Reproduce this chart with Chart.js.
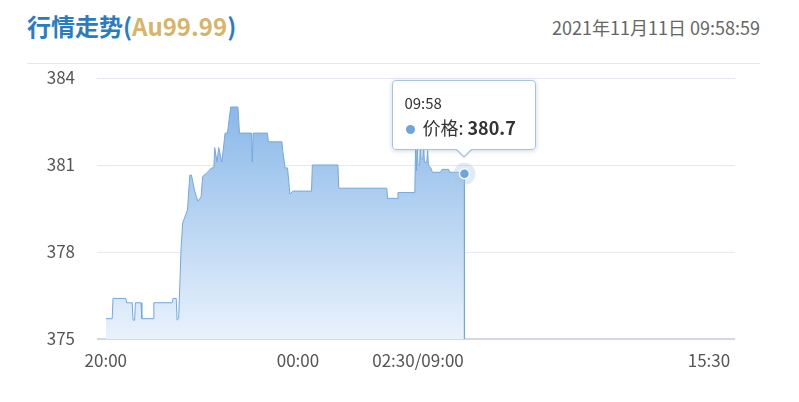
<!DOCTYPE html>
<html lang="zh-CN">
<head>
<meta charset="utf-8">
<title>行情走势</title>
<script src="https://cdn.jsdelivr.net/npm/chart.js@4.4.0/dist/chart.umd.min.js"></script>
<style>
  html, body { margin: 0; padding: 0; background: #fff; }
  body { width: 799px; height: 402px; overflow: hidden; position: relative;
         font-family: "Noto Sans CJK SC", "Noto Sans", sans-serif; }
  #titulo { position: absolute; left: 27px; top: 9px; font-size: 24px; font-weight: bold;
            color: #2a7cc2; line-height: 34px; }
  #titulo span { color: #d6b46a; }
  #fecha { position: absolute; right: 39px; top: 11px; font-size: 18px; color: #666; line-height: 32px; }
  #separador { position: absolute; left: 27px; top: 63px; width: 733px; height: 1px; background: #e8e8e8; }
  #grafica { position: absolute; left: 0; top: 0; }
  #tooltip { position: absolute; width: 144px; height: 70px; box-sizing: border-box;
             background: rgba(255,255,255,0.96); border: 1px solid #a9c3df; border-radius: 4px;
             box-shadow: 0 1px 5px rgba(110,140,180,0.35); color: #333; }
  #tooltip::before { content: ""; position: absolute; left: 50%; bottom: -9px; margin-left: -9px;
             border-left: 9px solid transparent; border-right: 9px solid transparent; border-top: 9px solid #a9c3df; }
  #tooltip::after { content: ""; position: absolute; left: 50%; bottom: -7px; margin-left: -8px;
             border-left: 8px solid transparent; border-right: 8px solid transparent; border-top: 8px solid #fff; }
  #tooltip .tt-titulo { position: absolute; left: 11px; top: 12px; font-size: 15px; line-height: 20px; }
  #tooltip .tt-cuerpo { position: absolute; left: 13px; top: 33px; font-size: 18px; line-height: 26px; white-space: nowrap; }
  #tooltip .tt-punto { display: inline-block; width: 9px; height: 9px; border-radius: 50%;
             background: #6ea5df; margin-right: 7px; vertical-align: 1px; }
</style>
</head>
<body>
<div id="titulo">行情走势(<span>Au99.99</span>)</div>
<div id="fecha">2021年11月11日 09:58:59</div>
<div id="separador"></div>
<canvas id="grafica" width="799" height="402"></canvas>
<div id="tooltip"></div>

<script>
// Minutos desde las 20:00 (sesión nocturna 20:00-02:30 y diurna 09:00-15:30)
const minutos = [
  0, 8, 9, 25, 26, 33, 34, 36, 37, 44, 45, 59, 60, 83, 84, 88, 89, 91, 94, 96,
  100, 102, 105, 107, 111, 115, 119, 121, 127, 132, 135, 136, 139, 141, 145, 149, 152, 156, 165, 167,
  182, 183, 184, 202, 203, 220, 221, 224, 227, 230, 234, 257, 258, 290, 291, 351, 352, 364, 365, 386,
  387, 388, 389, 390, 392, 393, 394, 396, 397, 398, 401, 402, 403, 406, 408, 418, 420, 428, 430, 440,
  446, 448, 448
];

// Precio Au99.99 en cada minuto
const precios = [
  375.7, 375.7, 376.4, 376.4, 376.25, 376.25, 375.65, 375.65, 376.25, 376.25, 375.7, 375.7, 376.25, 376.25, 376.4, 376.4, 375.65, 375.7, 378.1, 379.0,
  379.3, 379.45, 380.65, 380.65, 380.1, 379.75, 379.9, 380.6, 380.75, 380.9, 380.9, 381.6, 381.1, 381.6, 381.1, 382.1, 382.1, 383.0, 383.0, 382.1,
  382.1, 381.1, 382.1, 382.1, 381.8, 381.8, 381.5, 380.9, 380.9, 380.0, 380.1, 380.1, 381.0, 381.0, 380.2, 380.2, 379.85, 379.85, 380.05, 380.05,
  381.7, 380.8, 381.8, 381.0, 381.0, 381.8, 381.2, 381.2, 381.7, 381.1, 381.1, 381.5, 381.0, 380.9, 380.75, 380.75, 380.85, 380.85, 380.75, 380.75,
  380.7, 380.7, 375
];

// Etiquetas del eje X
const marcasX = [0, 240, 390, 780];
const etiquetasX = ['20:00', '00:00', '02:30/09:00', '15:30'];

// Eje Y
const minY = 375;
const maxY = 384;
const pasoY = 3;

// Punto actual (último precio real)
const horaActual = '09:58';
const minutoActual = minutos[minutos.length - 2];
const precioActual = precios[precios.length - 2];

const puntos = minutos.map((m, i) => ({ x: m, y: precios[i] }));

// Plugin para dibujar las etiquetas del eje X (la última alineada a la derecha)
const etiquetasEjeX = {
  id: 'etiquetasEjeX',
  afterDraw(chart) {
    const ctx = chart.ctx;
    const escala = chart.scales.x;
    const y = chart.chartArea.bottom + 22;
    ctx.save();
    ctx.font = '17px "Noto Sans CJK SC", "Noto Sans", sans-serif';
    ctx.fillStyle = '#555';
    ctx.textBaseline = 'middle';
    marcasX.forEach((valor, i) => {
      ctx.textAlign = i === marcasX.length - 1 ? 'right' : 'center';
      ctx.fillText(etiquetasX[i], escala.getPixelForValue(valor), y);
    });
    ctx.restore();
  }
};

const ctx = document.getElementById('grafica').getContext('2d');

const grafica = new Chart(ctx, {
  type: 'line',
  data: {
    datasets: [
      {
        label: '当前',
        data: [{ x: minutoActual, y: precioActual }],
        pointRadius: 5,
        pointBackgroundColor: '#6ea5df',
        pointBorderColor: 'rgba(255,255,255,0.9)',
        pointBorderWidth: 1.5,
        showLine: false,
        order: 0
      },
      {
        label: '光晕',
        data: [{ x: minutoActual, y: precioActual }],
        pointRadius: 11,
        pointBackgroundColor: 'rgba(165,198,236,0.35)',
        pointBorderWidth: 0,
        showLine: false,
        order: 1
      },
      {
        label: '价格',
        data: puntos,
        borderColor: '#74a8de',
        borderWidth: 1,
        pointRadius: 0,
        tension: 0,
        fill: 'start',
        backgroundColor: function (context) {
          const area = context.chart.chartArea;
          if (!area) return 'rgba(140,185,235,0.6)';
          const g = context.chart.ctx.createLinearGradient(0, area.top + 25, 0, area.bottom);
          g.addColorStop(0, '#88b7e8');
          g.addColorStop(1, '#e9f2fc');
          return g;
        },
        order: 2
      }
    ]
  },
  options: {
    responsive: false,
    animation: false,
    events: [],
    layout: { padding: { top: 78, right: 64, bottom: 23, left: 0 } },
    plugins: {
      legend: { display: false },
      tooltip: { enabled: false }
    },
    scales: {
      x: {
        type: 'linear',
        min: -11,
        max: 786,
        grid: { display: false },
        border: { display: false },
        ticks: { display: false },
        afterFit: (escala) => { escala.height = 40; }
      },
      y: {
        min: minY,
        max: maxY,
        ticks: {
          stepSize: pasoY,
          color: '#555',
          padding: 22,
          font: { family: '"Noto Sans CJK SC", "Noto Sans", sans-serif', size: 17 }
        },
        grid: {
          drawTicks: false,
          color: (c) => c.tick && c.tick.value === minY ? '#d3d8e0' : '#e6e9ef',
          lineWidth: (c) => c.tick && c.tick.value === minY ? 2 : 1
        },
        border: { display: false },
        afterFit: (escala) => { escala.width = 97; }
      }
    }
  },
  plugins: [etiquetasEjeX]
});

// Colocar el cuadro de información sobre el punto actual
const px = grafica.scales.x.getPixelForValue(minutoActual);
const py = grafica.scales.y.getPixelForValue(precioActual);
const tooltip = document.getElementById('tooltip');
tooltip.innerHTML = `
  <div class="tt-titulo">${horaActual}</div>
  <div class="tt-cuerpo"><span class="tt-punto"></span>价格: <b>${precioActual.toFixed(1)}</b></div>
`;
tooltip.style.left = (px - 72) + 'px';
tooltip.style.top = (py - 16 - 70 - 8) + 'px';
</script>
</body>
</html>
